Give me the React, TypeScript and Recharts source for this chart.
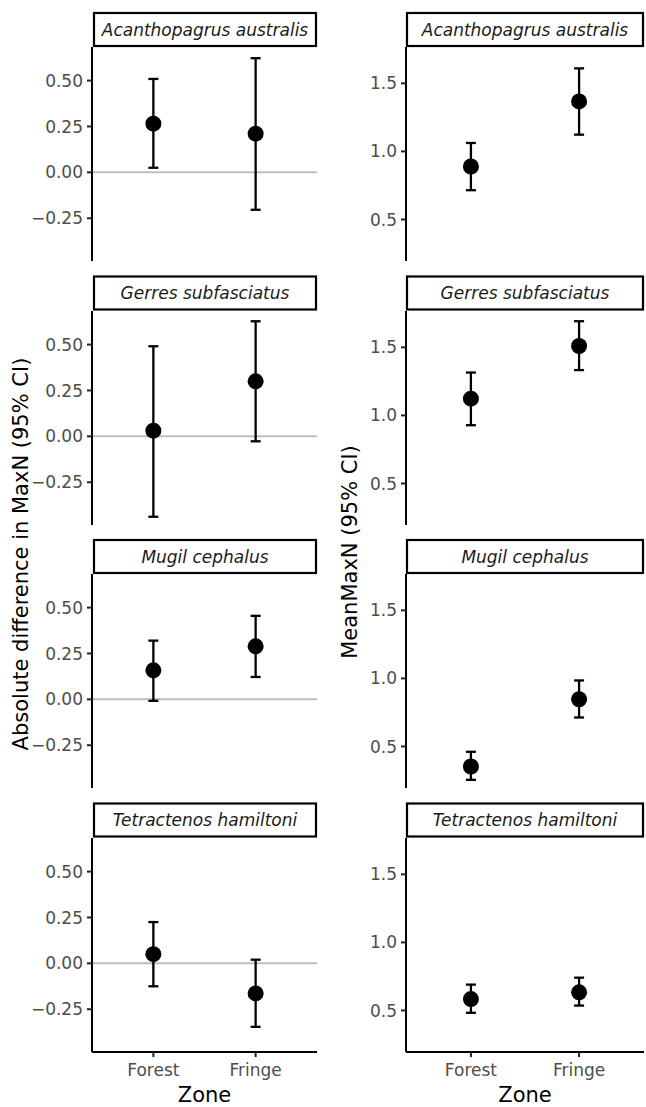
import React from 'react';
import { ScatterChart, Scatter, XAxis, YAxis, ErrorBar, ReferenceLine } from 'recharts';

// ---------- data ----------
const zones = ['Forest', 'Fringe'];
const species = ['Acanthopagrus australis', 'Gerres subfasciatus', 'Mugil cephalus', 'Tetractenos hamiltoni'];

// Absolute difference in MaxN (95% CI) – per species: [Forest, Fringe]
const diffEstimate = [[0.265, 0.211], [0.031, 0.300], [0.158, 0.289], [0.050, -0.164]];
const diffLower = [[0.025, -0.204], [-0.438, -0.027], [-0.008, 0.122], [-0.125, -0.346]];
const diffUpper = [[0.509, 0.622], [0.491, 0.627], [0.320, 0.455], [0.225, 0.020]];

// MeanMaxN (95% CI) – per species: [Forest, Fringe]
const meanEstimate = [[0.889, 1.367], [1.123, 1.510], [0.353, 0.847], [0.584, 0.633]];
const meanLower = [[0.715, 1.123], [0.928, 1.333], [0.255, 0.713], [0.483, 0.536]];
const meanUpper = [[1.062, 1.610], [1.315, 1.692], [0.461, 0.985], [0.690, 0.741]];

const diffTicks = [-0.25, 0, 0.25, 0.5];
const meanTicks = [0.5, 1.0, 1.5];
const diffDomain = [-0.483, 0.683];
const meanDomain = [0.195, 1.767];

const leftTitle = 'Absolute difference in MaxN (95% CI)';
const rightTitle = 'MeanMaxN (95% CI)';
const xTitle = 'Zone';

// ---------- layout ----------
const FONT = 'DejaVu Sans';
const ROW_TOP0 = 12;
const ROW_STEP = 263.5;
const STRIP_H = 35;
const PANEL_H = 214;
const X_AXIS_H = 54;

const cols = [
  { chartLeft: 0, axisX: 92, right: 317, stripLeft: 93 },
  { chartLeft: 350, axisX: 406, right: 644, stripLeft: 406 },
];

const fmtDiff = (v: number) => (v < 0 ? '\u2212' : '') + Math.abs(v).toFixed(2);
const fmtMean = (v: number) => v.toFixed(1);

const buildData = (est: number[], lo: number[], hi: number[]) =>
  zones.map((z, i) => ({ x: i + 1, zone: z, y: est[i], err: [est[i] - lo[i], hi[i] - est[i]] }));

const Dot = (p: any) => <circle cx={p.cx} cy={p.cy} r={8} fill="#000" />;

function Panel(props: {
  col: number; row: number; data: any[]; domain: number[]; ticks: number[];
  fmt: (v: number) => string; zeroLine: boolean; showX: boolean;
}) {
  const { col, row, data, domain, ticks, fmt, zeroLine, showX } = props;
  const c = cols[col];
  const top = ROW_TOP0 + ROW_STEP * row + STRIP_H;
  const width = c.right - c.chartLeft;
  const height = PANEL_H + (showX ? X_AXIS_H : 0);
  return (
    <div style={{ position: 'absolute', left: c.chartLeft, top }}>
      <ScatterChart width={width} height={height} margin={{ top: 0, right: 0, bottom: 0, left: 0 }}>
        <XAxis
          type="number"
          dataKey="x"
          domain={[0.4, 2.6]}
          ticks={[1, 2]}
          allowDataOverflow
          hide={!showX}
          height={X_AXIS_H}
          tickFormatter={(v: number) => zones[v - 1]}
          axisLine={{ stroke: '#000', strokeWidth: 2 }}
          tickLine={{ stroke: '#222', strokeWidth: 2 }}
          tickSize={5}
          tickMargin={7}
          tick={{ fill: '#4D4D4D', fontSize: 17, fontFamily: FONT }}
          label={{ value: xTitle, position: 'insideBottom', offset: 4, fill: '#000', fontSize: 21, fontFamily: FONT }}
        />
        <YAxis
          type="number"
          dataKey="y"
          domain={domain}
          ticks={ticks}
          allowDataOverflow
          width={c.axisX - c.chartLeft}
          tickFormatter={fmt}
          axisLine={{ stroke: '#000', strokeWidth: 2 }}
          tickLine={{ stroke: '#222', strokeWidth: 2 }}
          tickSize={5}
          tickMargin={4}
          tick={{ fill: '#4D4D4D', fontSize: 17, fontFamily: FONT }}
        />
        {zeroLine && <ReferenceLine y={0} stroke="#BEBEBE" strokeWidth={2} />}
        <Scatter data={data} isAnimationActive={false} shape={Dot}>
          <ErrorBar dataKey="err" direction="y" width={5} stroke="#000" strokeWidth={2.3} isAnimationActive={false} />
        </Scatter>
      </ScatterChart>
    </div>
  );
}

export default function App() {
  const panels: React.ReactNode[] = [];
  species.forEach((sp, r) => {
    panels.push(
      <Panel key={'d' + r} col={0} row={r} data={buildData(diffEstimate[r], diffLower[r], diffUpper[r])}
        domain={diffDomain} ticks={diffTicks} fmt={fmtDiff} zeroLine showX={r === species.length - 1} />
    );
    panels.push(
      <Panel key={'m' + r} col={1} row={r} data={buildData(meanEstimate[r], meanLower[r], meanUpper[r])}
        domain={meanDomain} ticks={meanTicks} fmt={fmtMean} zeroLine={false} showX={r === species.length - 1} />
    );
  });

  return (
    <div style={{ position: 'absolute', left: 0, top: 0, width: 646, height: 1107, background: '#fff', overflow: 'hidden' }}>
      {panels}
      <svg width={646} height={1107} style={{ position: 'absolute', left: 0, top: 0, pointerEvents: 'none' }}>
        {species.map((sp, r) =>
          cols.map((c, ci) => {
            const y = ROW_TOP0 + ROW_STEP * r;
            const w = c.right - c.stripLeft;
            return (
              <g key={sp + ci}>
                <rect x={c.stripLeft + 1} y={y + 1} width={w - 2} height={STRIP_H - 2} fill="#fff" stroke="#000" strokeWidth={2.2} />
                <text x={c.stripLeft + w / 2} y={y + STRIP_H / 2} textAnchor="middle" dominantBaseline="central"
                  fontFamily={FONT} fontStyle="italic" fontSize={17} fill="#1A1A1A">{sp}</text>
              </g>
            );
          })
        )}
        <text transform="translate(21,554) rotate(-90)" textAnchor="middle" dominantBaseline="central"
          fontFamily={FONT} fontSize={21} fill="#000">{leftTitle}</text>
        <text transform="translate(350,552) rotate(-90)" textAnchor="middle" dominantBaseline="central"
          fontFamily={FONT} fontSize={21} fill="#000">{rightTitle}</text>
      </svg>
    </div>
  );
}
